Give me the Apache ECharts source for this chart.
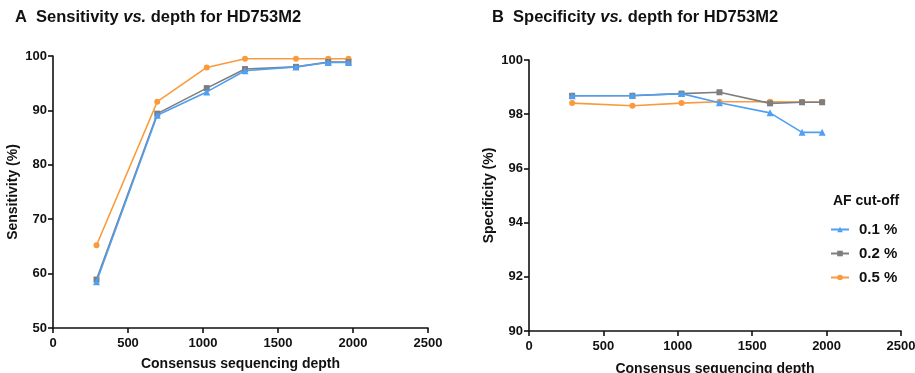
<!DOCTYPE html>
<html>
<head>
<meta charset="utf-8">
<script src="https://cdn.jsdelivr.net/npm/echarts@6/dist/echarts.min.js"></script>
<style>
  html, body { margin: 0; padding: 0; background: #fff; }
  #chart { width: 915px; height: 373px; }
</style>
</head>
<body>
<div id="chart"></div>
<script>
// Consensus sequencing depth (x) for each point
const depths = [290, 695, 1025, 1280, 1620, 1835, 1970];

// Sensitivity (%) per AF cut-off
const sens01 = [58.5, 89.1, 93.4, 97.3, 98.0, 98.8, 98.8];
const sens02 = [58.9, 89.4, 94.1, 97.6, 98.0, 98.9, 98.9];
const sens05 = [65.2, 91.6, 97.9, 99.5, 99.5, 99.5, 99.5];

// Specificity (%) per AF cut-off
const spec01 = [98.68, 98.69, 98.76, 98.42, 98.05, 97.33, 97.33];
const spec02 = [98.68, 98.68, 98.76, 98.81, 98.40, 98.44, 98.44];
const spec05 = [98.41, 98.31, 98.41, 98.46, 98.46, 98.45, 98.45];

const legendNames = ['0.1 %', '0.2 %', '0.5 %'];
const xTicks = { min: 0, max: 2500, interval: 500 };

const COLORS = { blue: '#4f9ff2', gray: '#7e7e7e', orange: '#f99b3c' };
const FONT = 'Arial, "Liberation Sans", sans-serif';

function pairs(ys) {
  return depths.map((x, i) => [x, ys[i]]);
}

const chart = echarts.init(document.getElementById('chart'), null, { renderer: 'canvas' });

const axisLine = { show: true, lineStyle: { color: '#111', width: 1.6 } };
const axisTick = { show: true, length: 5, lineStyle: { color: '#111', width: 1.6 } };
const axisLabel = { color: '#111', fontSize: 13, fontWeight: 'bold', fontFamily: FONT, formatter: (v) => String(v) };
const nameStyle = { color: '#111', fontSize: 14, fontWeight: 'bold', fontFamily: FONT };

function xAxis(gridIndex, gap) {
  return {
    type: 'value', gridIndex,
    min: xTicks.min, max: xTicks.max, interval: xTicks.interval,
    name: 'Consensus sequencing depth', nameLocation: 'middle', nameGap: gap,
    nameTextStyle: nameStyle,
    axisLine, axisTick, axisLabel: { ...axisLabel, margin: 9 },
    splitLine: { show: false },
  };
}

function yAxis(gridIndex, name, min, max, interval) {
  return {
    type: 'value', gridIndex, min, max, interval,
    name, nameLocation: 'middle', nameGap: 33,
    nameTextStyle: nameStyle,
    axisLine, axisTick, axisLabel: { ...axisLabel, margin: 6 },
    splitLine: { show: false },
  };
}

function lineSeries(name, ys, color, symbol, axisIdx, z) {
  return {
    name, type: 'line',
    xAxisIndex: axisIdx, yAxisIndex: axisIdx,
    data: pairs(ys),
    symbol, symbolSize: symbol === 'triangle' ? 7 : 6,
    lineStyle: { color, width: 1.6 },
    itemStyle: { color },
    z,
  };
}

const titleRich = {
  b: { fontSize: 16.5, fontWeight: 'bold', color: '#111', fontFamily: FONT },
  i: { fontSize: 16.5, fontWeight: 'bold', fontStyle: 'italic', color: '#111', fontFamily: FONT },
};

const option = {
  backgroundColor: '#fff',
  animation: false,
  title: [
    {
      text: '{b|A  Sensitivity }{i|vs.}{b| depth for HD753M2}',
      left: 15, top: 9, padding: 0,
      textStyle: { rich: titleRich },
    },
    {
      text: '{b|B  Specificity }{i|vs.}{b| depth for HD753M2}',
      left: 492, top: 9, padding: 0,
      textStyle: { rich: titleRich },
    },
    {
      text: 'AF cut-off',
      left: 833, top: 194, padding: 0,
      textStyle: { fontSize: 14, fontWeight: 'bold', color: '#111', fontFamily: FONT },
    },
  ],
  legend: {
    data: legendNames,
    orient: 'vertical',
    left: 830, top: 222, padding: 0,
    itemWidth: 18, itemHeight: 7,
    itemGap: 9,
    textStyle: { fontSize: 15, fontWeight: 'bold', color: '#111', fontFamily: FONT, padding: [0, 0, 0, 5] },
  },
  grid: [
    { left: 53, right: 487, top: 56, bottom: 45, outerBoundsMode: 'none', containLabel: false },
    { left: 529, right: 14, top: 60, bottom: 42, outerBoundsMode: 'none', containLabel: false },
  ],
  xAxis: [xAxis(0, 29), xAxis(1, 31)],
  yAxis: [
    yAxis(0, 'Sensitivity (%)', 50, 100, 10),
    yAxis(1, 'Specificity (%)', 90, 100, 2),
  ],
  series: [
    lineSeries('0.5 %', sens05, COLORS.orange, 'circle', 0, 2),
    lineSeries('0.2 %', sens02, COLORS.gray, 'rect', 0, 3),
    lineSeries('0.1 %', sens01, COLORS.blue, 'triangle', 0, 4),
    lineSeries('0.5 %', spec05, COLORS.orange, 'circle', 1, 2),
    lineSeries('0.2 %', spec02, COLORS.gray, 'rect', 1, 3),
    lineSeries('0.1 %', spec01, COLORS.blue, 'triangle', 1, 4),
  ],
};

chart.setOption(option);
</script>
</body>
</html>
